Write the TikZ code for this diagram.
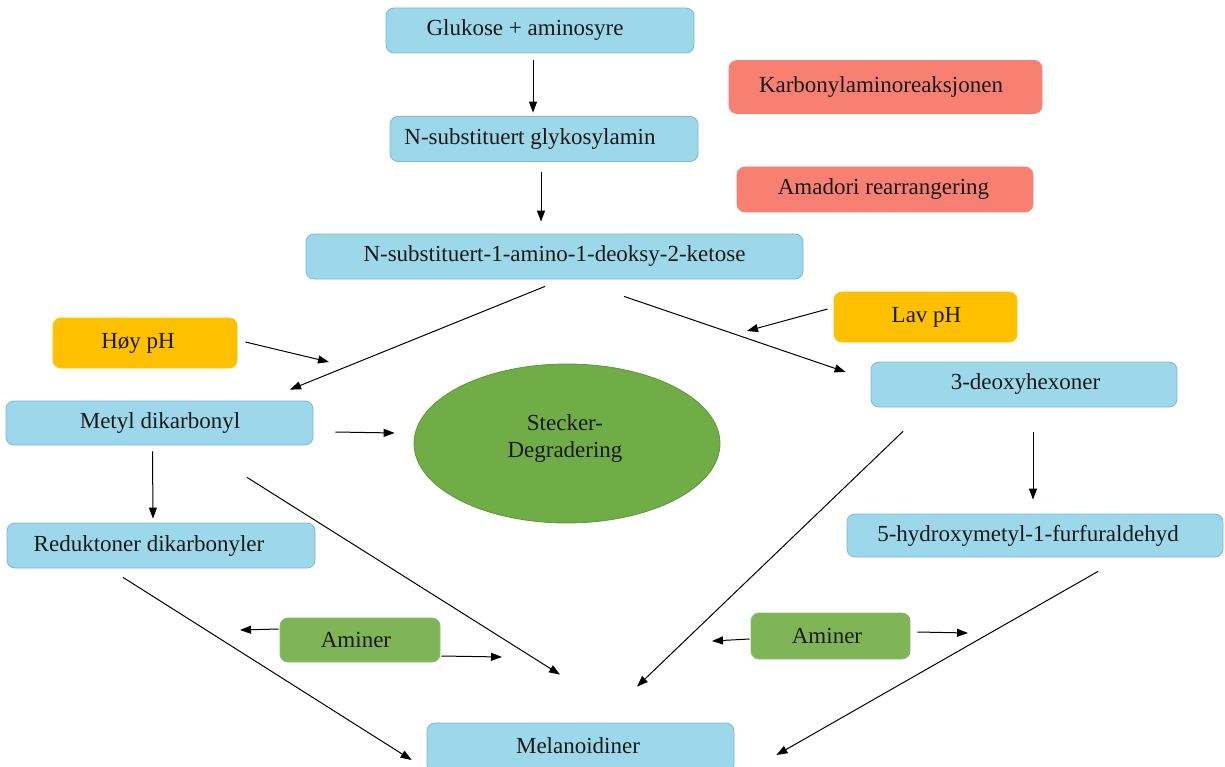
\documentclass[tikz,border=0pt]{standalone}
\usepackage{fontspec}
\setmainfont{Liberation Serif}
\usetikzlibrary{arrows.meta,calc,shapes.geometric}
\definecolor{bfill}{RGB}{157,216,234}
\definecolor{bdraw}{RGB}{125,182,226}
\definecolor{sfill}{RGB}{248,128,114}
\definecolor{yfill}{RGB}{255,192,0}
\definecolor{gfill}{RGB}{127,181,87}
\definecolor{efill}{RGB}{112,173,71}
\definecolor{edraw}{RGB}{96,150,60}
\tikzset{
  bx/.style={rectangle,rounded corners=8pt,inner sep=0pt,line width=0.8pt},
  bluebox/.style={bx,fill=bfill,draw=bdraw},
  salbox/.style={bx,fill=sfill,draw=sfill},
  yelbox/.style={bx,fill=yfill,draw=yfill},
  grnbox/.style={bx,fill=gfill,draw=gfill!90!white},
  txt/.style={inner sep=0pt,font=\fontsize{23}{27}\selectfont,text=black!90,align=center},
  arr/.style={line width=1pt,-{Triangle[length=11pt,width=8pt]}},
}
\begin{document}
\begin{tikzpicture}[x=1pt,y=-1pt]
\useasboundingbox (0,0) rectangle (1225,767);
% boxes
\node[bluebox,minimum width=308,minimum height=45] (glu) at (540,30.5) {};
\node[txt] (glu-t) at (525,30.5) {Glukose + aminosyre};
\node[bluebox,minimum width=308,minimum height=45] (gly) at (544,139) {};
\node[txt] (gly-t) at (530,139) {N-substituert glykosylamin};
\node[salbox,minimum width=313,minimum height=53] (kar) at (885.5,87) {};
\node[txt] (kar-t) at (881,87) {Karbonylaminoreaksjonen};
\node[salbox,minimum width=296,minimum height=45] (ama) at (885,189.5) {};
\node[txt] (ama-t) at (883.5,189.5) {Amadori rearrangering};
\node[bluebox,minimum width=497,minimum height=45] (ket) at (554.5,256.5) {};
\node[txt] (ket-t) at (554.5,256.5) {N-substituert-1-amino-1-deoksy-2-ketose};
\node[yelbox,minimum width=184,minimum height=50] (hoy) at (145,343) {};
\node[txt] (hoy-t) at (138,343) {Høy pH};
\node[yelbox,minimum width=183,minimum height=50] (lav) at (925.5,317) {};
\node[txt] (lav-t) at (926.5,317) {Lav pH};
\node[bluebox,minimum width=307,minimum height=44] (met) at (159.5,423) {};
\node[txt] (met-t) at (160,423) {Metyl dikarbonyl};
\node[bluebox,minimum width=306,minimum height=45] (deo) at (1024,384.5) {};
\node[txt] (deo-t) at (1025.5,384.5) {3-deoxyhexoner};
\node[bluebox,minimum width=308,minimum height=45] (red) at (161,545.5) {};
\node[txt] (red-t) at (149,545.5) {Reduktoner dikarbonyler};
\node[bluebox,minimum width=376,minimum height=43] (hyd) at (1035,535.5) {};
\node[txt] (hyd-t) at (1028,535.5) {5-hydroxymetyl-1-furfuraldehyd};
\node[ellipse,fill=efill,draw=edraw,line width=0.8pt,minimum width=306,minimum height=159,inner sep=0pt] (ste) at (567,443.5) {};
\node[txt] (ste-t) at (565,438) {Stecker-\\Degradering};
\node[grnbox,minimum width=160,minimum height=44] (amL) at (360,640) {};
\node[txt] (amL-t) at (356,640) {Aminer};
\node[grnbox,minimum width=159,minimum height=46] (amR) at (830.5,636) {};
\node[txt] (amR-t) at (827,636) {Aminer};
\node[bluebox,minimum width=307,minimum height=50] (mel) at (580.5,748) {};
\node[txt] (mel-t) at (578,746) {Melanoidiner};
% free ends
\coordinate (hoyEnd) at (329,362);
\coordinate (lavEnd) at (747,331);
\coordinate (amLl) at (240,630);
\coordinate (amLr) at (502,657);
\coordinate (amRl) at (712,641);
\coordinate (amRr) at (968,633);
% connectors
\draw[arr] ($(glu.south)+(-7,7)$) -- ($(gly.north)+(-11,-3.5)$);
\draw[arr] ($(gly.south)+(-3,10.5)$) -- ($(ket.north)+(-13.5,-12)$);
\draw[arr] ($(ket.south)+(-9.5,7)$) -- ($(met.north)+(130.5,-11)$);
\draw[arr] ($(ket.south)+(69.5,17)$) -- ($(deo.west)+(-25,-12.5)$);
\draw[arr] ($(hoy.east)+(8,-1)$) -- (hoyEnd);
\draw[arr] ($(lav.west)+(-6,-8)$) -- (lavEnd);
\draw[arr] ($(met.east)+(22,9)$) -- ($(ste.west)+(-19,-10.5)$);
\draw[arr] ($(met.south)+(-7,6)$) -- ($(red.north)+(-8,-4)$);
\draw[arr] ($(met.south)+(87.5,32)$) -- ($(mel.north)+(-20.5,-48)$);
\draw[arr] ($(red.south)+(-38,9)$) -- ($(mel.west)+(-15,12)$);
\draw[arr] ($(amL.west)+(-1,-11)$) -- (amLl);
\draw[arr] ($(amL.east)+(1,16)$) -- (amLr);
\draw[arr] ($(deo.south)+(-121,24)$) -- ($(mel.north)+(56.5,-36)$);
\draw[arr] ($(deo.south)+(9,25)$) -- ($(hyd.north)+(-2,-14)$);
\draw[arr] ($(hyd.south)+(63,14)$) -- ($(mel.east)+(42,7)$);
\draw[arr] ($(amR.west)+(-1,3)$) -- (amRl);
\draw[arr] ($(amR.east)+(7,-4)$) -- (amRr);
\end{tikzpicture}
\end{document}
